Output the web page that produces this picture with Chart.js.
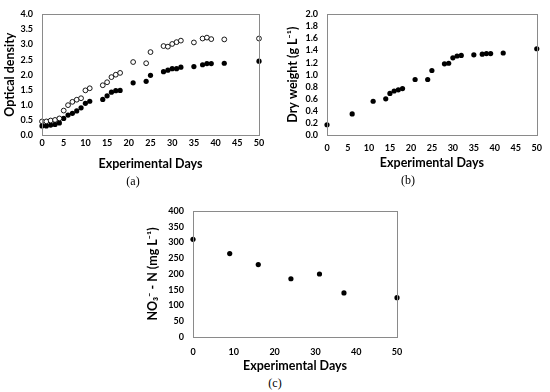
<!DOCTYPE html>
<html>
<head>
<meta charset="utf-8">
<script src="https://cdn.jsdelivr.net/npm/chart.js@4"></script>
<style>
  body { margin: 0; background: #fff; width: 550px; height: 392px; position: relative; overflow: hidden; }
  canvas { position: absolute; }
  .cap { position: absolute; font-family: "Liberation Serif", serif; font-size: 12px; color: #000; transform: translate(-50%, -50%); }
</style>
</head>
<body>
<canvas id="chartA" width="270" height="178" style="left:0;top:0;width:270px;height:178px"></canvas>
<canvas id="chartB" width="275" height="178" style="left:275px;top:0;width:275px;height:178px"></canvas>
<canvas id="chartC" width="300" height="180" style="left:120px;top:195px;width:300px;height:180px"></canvas>
<div class="cap" style="left:133px;top:181px">(a)</div>
<div class="cap" style="left:408px;top:180px">(b)</div>
<div class="cap" style="left:275px;top:383px">(c)</div>
<script>
// (a) optical density
const daysA = [0, 1, 2, 3, 4, 5, 6, 7, 8, 9, 10, 11, 14, 15, 16, 17, 18, 21, 24, 25, 28, 29, 30, 31, 32, 35, 37, 38, 39, 42, 50];
const odOpen = [0.45, 0.45, 0.48, 0.5, 0.55, 0.81, 0.99, 1.1, 1.17, 1.22, 1.48, 1.55, 1.65, 1.75, 1.92, 2.0, 2.06, 2.42, 2.38, 2.75, 2.95, 2.93, 3.02, 3.08, 3.13, 3.07, 3.2, 3.23, 3.18, 3.17, 3.2];
const odFilled = [0.3, 0.3, 0.33, 0.35, 0.4, 0.55, 0.66, 0.72, 0.8, 0.9, 1.05, 1.12, 1.18, 1.3, 1.42, 1.47, 1.48, 1.73, 1.78, 1.98, 2.1, 2.15, 2.2, 2.2, 2.25, 2.27, 2.33, 2.37, 2.37, 2.38, 2.45];

// (b) dry weight
const daysB = [0, 6, 11, 14, 15, 16, 17, 18, 21, 24, 25, 28, 29, 30, 31, 32, 35, 37, 38, 39, 42, 50];
const dryWeight = [0.17, 0.35, 0.56, 0.6, 0.69, 0.73, 0.75, 0.77, 0.92, 0.92, 1.07, 1.18, 1.19, 1.28, 1.31, 1.32, 1.33, 1.34, 1.35, 1.35, 1.36, 1.43];

// (c) nitrate
const daysC = [0, 9, 16, 24, 31, 37, 50];
const nitrate = [310, 265, 230, 185, 200, 140, 125];

const xTitle = 'Experimental Days';
const titleA = 'Optical density';
const titleB = 'Dry weight (g L\u207B\u00B9)';
const titleC = 'NO\u2083\u207B - N (mg L\u207B\u00B9)';

const font = 'Lato, "Open Sans", sans-serif';

const toPoints = (xs, ys) => xs.map((x, i) => ({ x: x, y: ys[i] }));

// grey box round the plot area
const boxPlugin = {
  id: 'box',
  afterDatasetsDraw(chart) {
    const a = chart.chartArea;
    const ctx = chart.ctx;
    ctx.save();
    ctx.strokeStyle = '#8a8a8a';
    ctx.lineWidth = 1;
    ctx.strokeRect(Math.round(a.left) + 0.5, Math.round(a.top) + 0.5, Math.round(a.right - a.left), Math.round(a.bottom - a.top));
    ctx.restore();
  }
};

const makeChart = (id, datasets, cfg) => {
  return new Chart(document.getElementById(id), {
    type: 'scatter',
    data: { datasets: datasets },
    options: {
      responsive: false,
      animation: false,
      devicePixelRatio: 1,
      layout: { padding: cfg.padding },
      plugins: { legend: { display: false }, tooltip: { enabled: false } },
      scales: {
        x: {
          type: 'linear',
          min: 0,
          max: 50,
          afterFit: (s) => { s.height = cfg.xHeight; },
          grid: { display: false, drawTicks: false },
          border: { display: false },
          ticks: { stepSize: cfg.xStep, autoSkip: false, maxRotation: 0, padding: cfg.xPad, color: '#000', font: { family: font, size: 9, weight: 'bold' } },
          title: { display: true, text: xTitle, color: '#000', padding: { top: 2, bottom: cfg.xTitlePad }, font: { family: font, size: 12.5, weight: 'bold' } }
        },
        y: {
          min: cfg.yMin,
          max: cfg.yMax,
          afterFit: (s) => { s.width = cfg.yWidth; },
          grid: { display: false, drawTicks: false },
          border: { display: false },
          ticks: {
            stepSize: cfg.yStep,
            autoSkip: false,
            padding: cfg.yPad,
            color: '#000',
            font: { family: font, size: 9, weight: 'bold' },
            callback: (v) => cfg.yDec ? v.toFixed(cfg.yDec) : v
          },
          title: { display: true, text: cfg.yTitle, color: '#000', padding: { top: cfg.yTitlePad, bottom: 2 }, font: { family: font, size: 12.5, weight: 'bold' } }
        }
      }
    },
    plugins: [boxPlugin]
  });
};

const filled = (pts) => ({ data: pts, pointRadius: 2.6, pointBackgroundColor: '#000', pointBorderColor: '#000', pointBorderWidth: 0, clip: false });
const open = (pts) => ({ data: pts, pointRadius: 2.4, pointBackgroundColor: '#fff', pointBorderColor: '#000', pointBorderWidth: 0.9, clip: false });

makeChart('chartA', [open(toPoints(daysA, odOpen)), filled(toPoints(daysA, odFilled))], {
  padding: { top: 7, right: 11, left: 0, bottom: 0 },
  xHeight: 43, xStep: 5, xPad: 3, xTitlePad: 7,
  yMin: 0, yMax: 4, yStep: 0.5, yDec: 1, yWidth: 42, yPad: 9, yTitle: titleA, yTitlePad: 2
});

makeChart('chartB', [filled(toPoints(daysB, dryWeight))], {
  padding: { top: 7, right: 9, left: 0, bottom: 0 },
  xHeight: 43, xStep: 5, xPad: 8, xTitlePad: 8,
  yMin: 0, yMax: 2, yStep: 0.2, yDec: 1, yWidth: 52, yPad: 9, yTitle: titleB, yTitlePad: 10
});

makeChart('chartC', [filled(toPoints(daysC, nitrate))], {
  padding: { top: 16, right: 23, left: 0, bottom: 0 },
  xHeight: 38, xStep: 10, xPad: 10, xTitlePad: 2,
  yMin: 0, yMax: 400, yStep: 50, yDec: 0, yWidth: 73, yPad: 9, yTitle: titleC, yTitlePad: 25
});
</script>
</body>
</html>
